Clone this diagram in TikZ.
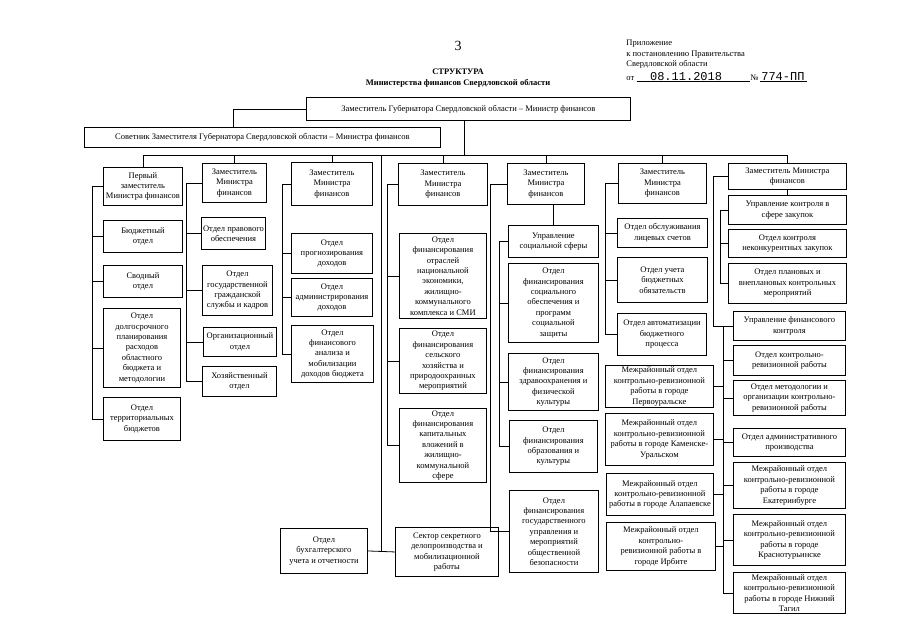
\documentclass[tikz,border=0pt]{standalone}
\usepackage{fontspec}
\setmainfont{Liberation Serif}
\newfontfamily\datefont{Liberation Mono}
\usetikzlibrary{positioning}

\begin{document}
\begin{tikzpicture}[x=1pt, y=-1pt, line width=0.8pt,
        font=\fontsize{8.5}{10.4}\selectfont,
        box/.style={draw, line width=0.9pt, anchor=north west, align=center, inner sep=1pt},
        wh/.style 2 args={minimum width=#1pt, minimum height=#2pt},
        head/.style={align=left, anchor=north west, inner sep=0pt},
        uline/.style={line width=0.5pt}]
  \useasboundingbox (0,0) rectangle (905,640);

  % header
  \node (num) at (458,46) {\fontsize{14}{14}\selectfont 3};
  \node[font=\fontsize{8.5}{10.4}\selectfont\bfseries, align=center] (title) at (458,78) {СТРУКТУРА\\Министерства финансов Свердловской области};
  \node[head] (appx) at (626,40) {Приложение\\к постановлению Правительства\\Свердловской области};
  \node[anchor=base west, inner sep=0pt] (ot) at (626,80) {от};
  \node[anchor=base west, inner sep=0pt, right=15pt of ot.base east, anchor=base west, font=\datefont\fontsize{12}{12}\selectfont] (date) {08.11.2018};
  \node[anchor=base west, inner sep=0pt] (no) at (750,80) {№};
  \node[anchor=base west, inner sep=0pt, right=2pt of no.base east, anchor=base west, font=\datefont\fontsize{12}{12}\selectfont] (numb) {774-ПП};
  \draw[uline] ([xshift=2pt,yshift=-1.5pt]ot.base east) -- ([yshift=-1.5pt]no.base west);
  \draw[uline] ([xshift=1pt,yshift=-1.5pt]no.base east) -- ([xshift=2pt,yshift=-1.5pt]numb.base east);

  % top level
  \node[box, wh={324}{23}] (gov) at (306,97) {Заместитель Губернатора Свердловской области – Министр финансов};
  \node[box, wh={356}{20}] (adv) at (84,127) {Советник Заместителя Губернатора Свердловской области – Министра финансов};

  % spines
  \coordinate (bus) at (0,155);
  \coordinate (s1) at (92,0);
  \coordinate (s2) at (186,0);
  \coordinate (s3) at (282,0);
  \coordinate (s4) at (387,0);
  \coordinate (s5) at (490,0);
  \coordinate (s5i) at (499,0);
  \coordinate (s6) at (605,0);
  \coordinate (s7) at (713,0);
  \coordinate (s7i) at (720,0);
  \coordinate (s8) at (723,0);

  % first deputy
  \node[box, wh={79}{38}] (c1) at (103,167) {Первый\\заместитель\\Министра финансов};
  \node[box, wh={79}{32}] (c1a) at (103,220) {Бюджетный\\отдел};
  \node[box, wh={79}{32}] (c1b) at (103,265) {Сводный\\отдел};
  \node[box, wh={77}{79}] (c1c) at (103,308) {Отдел\\долгосрочного\\планирования\\расходов\\областного\\бюджета и\\методологии};
  \node[box, wh={77}{43}] (c1d) at (103,397) {Отдел\\территориальных\\бюджетов};

  % deputy 2
  \node[box, wh={64}{39}] (c2) at (202,163) {Заместитель\\Министра\\финансов};
  \node[box, wh={64}{32}] (c2a) at (201,217) {Отдел правового\\обеспечения};
  \node[box, wh={70}{50}] (c2b) at (202,265) {Отдел\\государственной\\гражданской\\службы и кадров};
  \node[box, wh={73}{29}] (c2c) at (203,327) {Организационный\\отдел};
  \node[box, wh={74}{30}] (c2d) at (202,366) {Хозяйственный\\отдел};

  % deputy 3
  \node[box, wh={81}{43}] (c3) at (291,162) {Заместитель\\Министра\\финансов};
  \node[box, wh={81}{40}] (c3a) at (291,233) {Отдел\\прогнозирования\\доходов};
  \node[box, wh={81}{38}] (c3b) at (291,278) {Отдел\\администрирования\\доходов};
  \node[box, wh={82}{57}] (c3c) at (291,325) {Отдел\\финансового\\анализа и\\мобилизации\\доходов бюджета};

  % directly under the minister
  \node[box, wh={87}{45}] (bukh) at (280,528) {Отдел\\бухгалтерского\\учета и отчетности};
  \node[box, wh={103}{49}] (sect) at (395,527) {Сектор секретного\\делопроизводства и\\мобилизационной\\работы};

  % deputy 4
  \node[box, wh={89}{42}] (c4) at (398,163) {Заместитель\\Министра\\финансов};
  \node[box, wh={87}{85}] (c4a) at (399,233) {Отдел\\финансирования\\отраслей\\национальной\\экономики,\\жилищно-\\коммунального\\комплекса и СМИ};
  \node[box, wh={87}{65}] (c4b) at (399,328) {Отдел\\финансирования\\сельского\\хозяйства и\\природоохранных\\мероприятий};
  \node[box, wh={87}{74}] (c4c) at (399,408) {Отдел\\финансирования\\капитальных\\вложений в\\жилищно-\\коммунальной\\сфере};

  % deputy 5
  \node[box, wh={77}{41}] (c5) at (507,163) {Заместитель\\Министра\\финансов};
  \node[box, wh={90}{32}] (c5m) at (508,225) {Управление\\социальной сферы};
  \node[box, wh={90}{79}] (c5a) at (508,263) {Отдел\\финансирования\\социального\\обеспечения и\\программ\\социальной\\защиты};
  \node[box, wh={90}{57}] (c5b) at (508,353) {Отдел\\финансирования\\здравоохранения и\\физической\\культуры};
  \node[box, wh={88}{52}] (c5c) at (509,420) {Отдел\\финансирования\\образования и\\культуры};
  \node[box, wh={89}{82}] (c5d) at (509,490) {Отдел\\финансирования\\государственного\\управления и\\мероприятий\\общественной\\безопасности};

  % deputy 6
  \node[box, wh={88}{40}] (c6) at (618,163) {Заместитель\\Министра\\финансов};
  \node[box, wh={90}{29}] (c6a) at (617,218) {Отдел обслуживания\\лицевых счетов};
  \node[box, wh={90}{45}] (c6b) at (617,257) {Отдел учета\\бюджетных\\обязательств};
  \node[box, wh={89}{42}] (c6c) at (617,313) {Отдел автоматизации\\бюджетного\\процесса};

  % deputy 7
  \node[box, wh={118}{26}] (c7) at (728,163) {Заместитель Министра\\финансов};
  \node[box, wh={118}{29}] (c7s1) at (728,195) {Управление контроля в\\сфере закупок};
  \node[box, wh={118}{28}] (c7s2) at (728,229) {Отдел контроля\\неконкурентных закупок};
  \node[box, wh={118}{40}] (c7s3) at (728,263) {Отдел плановых и\\внеплановых контрольных\\мероприятий};
  \node[box, wh={112}{29}] (c7m) at (733,311) {Управление финансового\\контроля};
  \node[box, wh={112}{30}] (r1) at (733,345) {Отдел контрольно-\\ревизионной работы};
  \node[box, wh={112}{35}] (r2) at (733,380) {Отдел методологии и\\организации контрольно-\\ревизионной работы};
  \node[box, wh={112}{28}] (r3) at (733,428) {Отдел административного\\производства};
  \node[box, wh={112}{46}] (r4) at (733,462) {Межрайонный отдел\\контрольно-ревизионной\\работы в городе\\Екатеринбурге};
  \node[box, wh={112}{51}] (r5) at (733,514) {Межрайонный отдел\\контрольно-ревизионной\\работы в городе\\Краснотурьинске};
  \node[box, wh={112}{41}] (r6) at (733,572) {Межрайонный отдел\\контрольно-ревизионной\\работы в городе Нижний\\Тагил};
  \node[box, wh={108}{42}] (l1) at (605,365) {Межрайонный отдел\\контрольно-ревизионной\\работы в городе\\Первоуральске};
  \node[box, wh={108}{52}] (l2) at (605,413) {Межрайонный отдел\\контрольно-ревизионной\\работы в городе Каменске-\\Уральском};
  \node[box, wh={107}{42}] (l3) at (606,473) {Межрайонный отдел\\контрольно-ревизионной\\работы в городе Алапаевске};
  \node[box, wh={109}{48}] (l4) at (606,522) {Межрайонный отдел\\контрольно-\\ревизионной работы в\\городе Ирбите};

  % connectors
  \draw (gov.west) -| ([xshift=-29pt]adv.north);
  \draw ([xshift=-4pt]gov.south) -- ([xshift=-4pt]gov.south |- bus);
  \draw (c1.north) -- (c1.north |- bus) -| (c7.north);
  \foreach \n in {c2,c3,c4,c5,c6}
    \draw (\n.north) -- (\n.north |- bus);
  \draw (bukh.east) -- node[coordinate, pos=0.5] (mid) {} (sect.west);
  \draw (mid) -- (mid |- bus);

  \draw (c1.west) -| (s1 |- c1d.west) -- (c1d.west);
  \foreach \n in {c1a,c1b,c1c}
    \draw (\n.west) -- (\n.west -| s1);
  \draw (c2.west) -| (s2 |- c2d.west) -- (c2d.west);
  \foreach \n in {c2a,c2b,c2c}
    \draw (\n.west) -- (\n.west -| s2);
  \draw (c3.west) -| (s3 |- c3c.west) -- (c3c.west);
  \foreach \n in {c3a,c3b}
    \draw (\n.west) -- (\n.west -| s3);
  \draw (c4.west) -| (s4 |- c4c.west) -- (c4c.west);
  \draw (c4a.west) -- (c4a.west -| s4);
  \draw (c4b.west) -- (c4b.west -| s4);

  \draw (c5m.north |- c5.south) -- (c5m.north);
  \draw (c5.west) -| (s5 |- c5d.west) -- (c5d.west);
  \draw (c5m.west) -| (s5i |- c5c.west) -- (c5c.west);
  \foreach \n in {c5a,c5b}
    \draw (\n.west) -- (\n.west -| s5i);

  \draw (c6.west) -| (s6 |- c6c.west) -- (c6c.west);
  \foreach \n in {c6a,c6b}
    \draw (\n.west) -- (\n.west -| s6);

  \draw (c7.south) -- (c7s1.north);
  \draw (c7s1.west) -| (s7i |- c7s3.west) -- (c7s3.west);
  \draw (c7s2.west) -- (c7s2.west -| s7i);
  \draw (c7.west) -| (s7 |- c7m.west) -- (c7m.west);
  \draw (c7m.west) -| (s8 |- r6.west) -- (r6.west);
  \foreach \n in {r1,r2,r3,r4,r5}
    \draw (\n.west) -- (\n.west -| s8);
  \foreach \n in {l1,l2,l3,l4}
    \draw (\n.east) -- (\n.east -| s8);
\end{tikzpicture}
\end{document}
